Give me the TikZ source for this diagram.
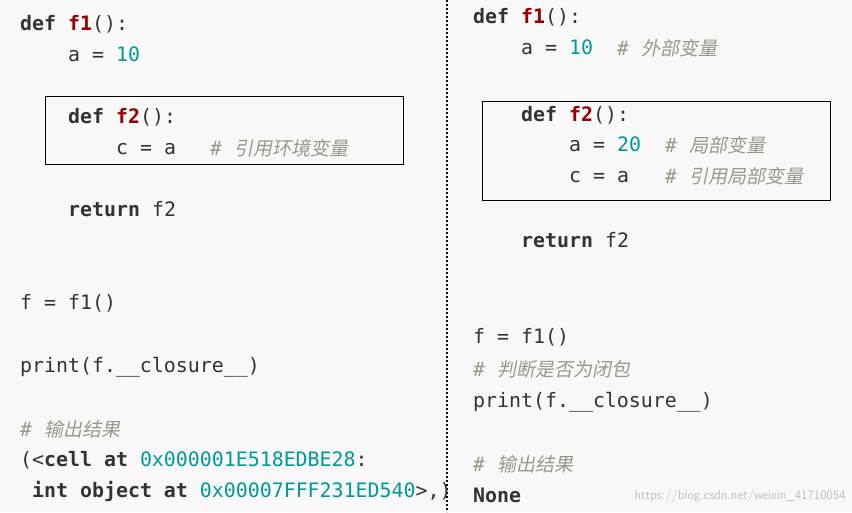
\documentclass[tikz,border=0pt]{standalone}
\usepackage{fontspec}
\setmonofont{DejaVu Sans Mono}
\newfontfamily\cjk[FakeSlant=0.2]{Noto Sans CJK SC}
\usetikzlibrary{positioning}
\definecolor{bgc}{HTML}{F8F8F8}
\definecolor{kwc}{HTML}{333333}
\definecolor{fnc}{HTML}{990000}
\definecolor{numc}{HTML}{009999}
\definecolor{cmc}{HTML}{999988}
\tikzset{code/.style={anchor=base west, inner sep=0pt, font=\fontsize{19.9}{24}\ttfamily, text=kwc},
  cmt/.style={code, text=cmc, font=\fontsize{19.9}{24}\ttfamily\itshape},
  fbox/.style={draw=black, line width=0.9pt}}
\newcommand{\kw}[1]{\textbf{#1}}
\newcommand{\fn}[1]{\textcolor{fnc}{\textbf{#1}}}
\newcommand{\num}[1]{\textcolor{numc}{#1}}
\newcommand{\zh}[1]{{\cjk\fontsize{19}{22}\selectfont #1}}

\begin{document}
\begin{tikzpicture}[x=1pt, y=-1pt]
\fill[bgc] (0,0) rectangle (852,512);
\useasboundingbox (0,0) rectangle (852,512);
\draw[line width=2pt, dotted] (447,0) -- (447,512);
% left column
\node[code] (l1) at (20,30) {\kw{def} \fn{f1}():};
\node[code] (l2) at (68,61) {a = \num{10}};
\draw[fbox] (45,96) rectangle (403,164);
\node[code] (l3) at (68,123) {\kw{def} \fn{f2}():};
\node[code] (l4) at (116,154) {c = a};
\node[cmt] (l4c) at (210,155) {\# \zh{引用环境变量}};
\node[code] (l5) at (68,216) {\kw{return} f2};
\node[code] (l6) at (20,309) {f = f1()};
\node[code] (l7) at (20,372) {print(f.\_\_closure\_\_)};
\node[cmt] (l8) at (20,436) {\# \zh{输出结果}};
\node[code] (l9) at (20,466) {(<\kw{cell at} \num{0x000001E518EDBE28}:};
\node[code] (l10) at (32,497) {\kw{int object at} \num{0x00007FFF231ED540}>,)};
% right column
\node[code] (r1) at (473,23) {\kw{def} \fn{f1}():};
\node[code] (r2) at (521,54) {a = \num{10}};
\node[cmt] (r2c) at (617,55) {\# \zh{外部变量}};
\draw[fbox] (482,101) rectangle (830,200);
\node[code] (r3) at (521,121) {\kw{def} \fn{f2}():};
\node[code] (r4) at (569,151) {a = \num{20}};
\node[cmt] (r4c) at (665,152) {\# \zh{局部变量}};
\node[code] (r5) at (569,182) {c = a};
\node[cmt] (r5c) at (665,183) {\# \zh{引用局部变量}};
\node[code] (r6) at (521,247) {\kw{return} f2};
\node[code] (r7) at (473,343) {f = f1()};
\node[cmt] (r8) at (473,376) {\# \zh{判断是否为闭包}};
\node[code] (r9) at (473,407) {print(f.\_\_closure\_\_)};
\node[cmt] (r10) at (473,471) {\# \zh{输出结果}};
\node[code] (r11) at (473,502) {\kw{None}};
\node[anchor=base east, inner sep=0pt, text=black!25, font=\sffamily\fontsize{13}{15}\selectfont] (wm) at (846,499) {https://blog.csdn.net/weixin\_41710054};
\end{tikzpicture}
\end{document}
